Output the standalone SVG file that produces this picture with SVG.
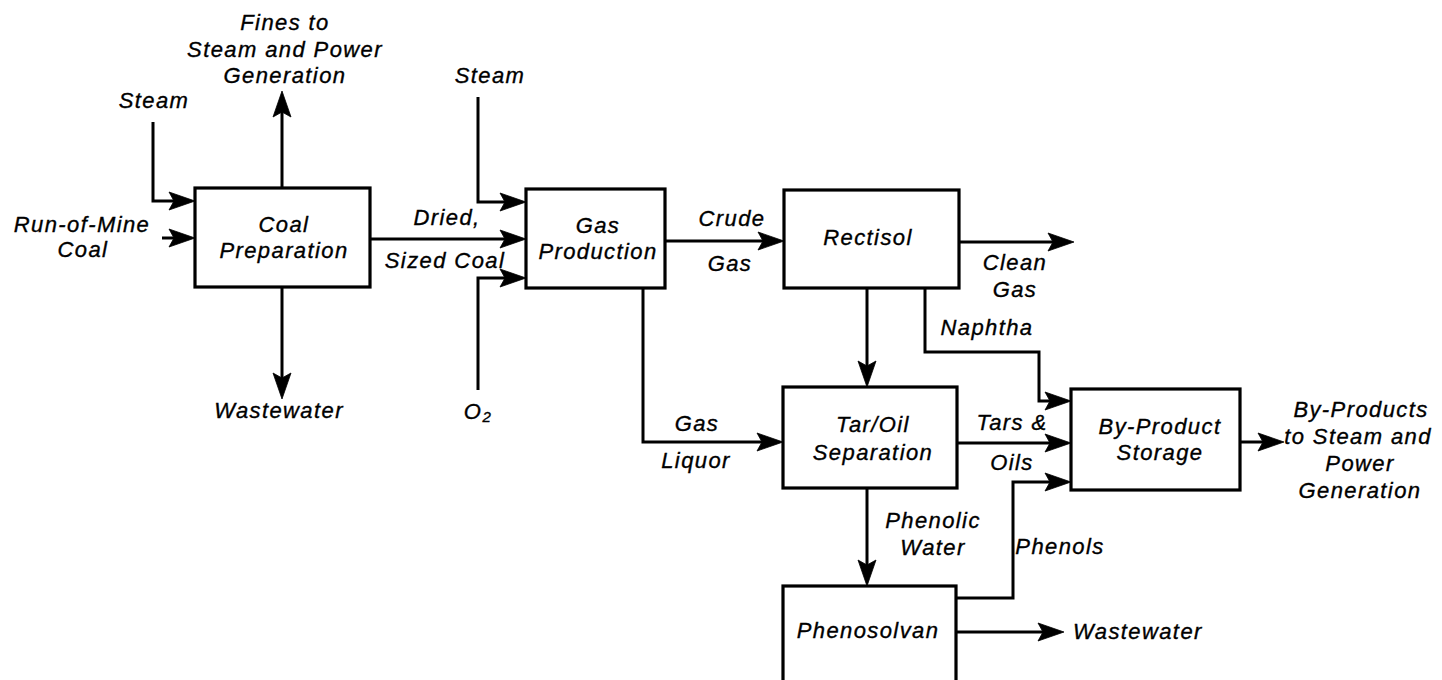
<svg xmlns="http://www.w3.org/2000/svg" width="1442" height="680" viewBox="0 0 1442 680">
<style>
.box{fill:#fff;stroke:#000;stroke-width:3.2}
.ln{fill:none;stroke:#000;stroke-width:3;stroke-linejoin:miter}
text{font-family:"Liberation Sans",Arial,sans-serif;font-style:italic;font-size:22px;letter-spacing:1.4px;fill:#000;stroke:#000;stroke-width:0.35;text-anchor:middle}
.st{text-anchor:start}
</style>
<defs>
<path id="ah" d="M-26,-9 L0,0 L-26,9 L-21,0 z" fill="#000" stroke="#000" stroke-width="0.8" stroke-linejoin="round"/>
</defs>
<rect width="1442" height="680" fill="#fff"/>
<g id="connectors">
<path class="ln" d="M153,122 V201 H188"/>
<use href="#ah" transform="translate(195,201)"/>
<path class="ln" d="M162,238 H188"/>
<use href="#ah" transform="translate(195,238)"/>
<path class="ln" d="M282,188 V98"/>
<use href="#ah" transform="translate(282,91) rotate(-90)"/>
<path class="ln" d="M282,287 V392"/>
<use href="#ah" transform="translate(282,399) rotate(90)"/>
<path class="ln" d="M370,239 H519"/>
<use href="#ah" transform="translate(526,239)"/>
<path class="ln" d="M478,97 V202 H519"/>
<use href="#ah" transform="translate(526,202)"/>
<path class="ln" d="M478,390 V278 H519"/>
<use href="#ah" transform="translate(526,278)"/>
<path class="ln" d="M665,241 H777"/>
<use href="#ah" transform="translate(784,241)"/>
<path class="ln" d="M959,242 H1067"/>
<use href="#ah" transform="translate(1074,242)"/>
<path class="ln" d="M867,288 V380"/>
<use href="#ah" transform="translate(867,387) rotate(90)"/>
<path class="ln" d="M925,288 V352 H1039 V401 H1064"/>
<use href="#ah" transform="translate(1071,401)"/>
<path class="ln" d="M643,288 V442 H776"/>
<use href="#ah" transform="translate(783,442)"/>
<path class="ln" d="M957,443 H1064"/>
<use href="#ah" transform="translate(1071,443)"/>
<path class="ln" d="M1240,442 H1277"/>
<use href="#ah" transform="translate(1284,442)"/>
<path class="ln" d="M867,488 V579"/>
<use href="#ah" transform="translate(867,586) rotate(90)"/>
<path class="ln" d="M956,598 H1013 V482 H1064"/>
<use href="#ah" transform="translate(1071,482)"/>
<path class="ln" d="M956,632 H1057"/>
<use href="#ah" transform="translate(1064,632)"/>
</g>
<g id="coal-preparation">
<rect class="box" x="195" y="188" width="175" height="99"/>
<text x="284" y="232">Coal</text>
<text x="284" y="258">Preparation</text>
</g>
<g id="gas-production">
<rect class="box" x="526" y="189" width="139" height="99"/>
<text x="598" y="233">Gas</text>
<text x="598" y="259">Production</text>
</g>
<g id="rectisol">
<rect class="box" x="784" y="190" width="175" height="98"/>
<text x="868" y="245">Rectisol</text>
</g>
<g id="tar-oil-separation">
<rect class="box" x="783" y="387" width="174" height="101"/>
<text x="873" y="432">Tar/Oil</text>
<text x="873" y="460">Separation</text>
</g>
<g id="by-product-storage">
<rect class="box" x="1071" y="389" width="169" height="101"/>
<text x="1160" y="434">By-Product</text>
<text x="1160" y="460">Storage</text>
</g>
<g id="phenosolvan">
<rect class="box" x="783" y="586" width="173" height="120"/>
<text x="868" y="638">Phenosolvan</text>
</g>
<g id="labels">
<text x="285" y="30">Fines to</text>
<text x="285" y="57">Steam and Power</text>
<text x="285" y="83">Generation</text>
<text x="154" y="108">Steam</text>
<text x="490" y="83">Steam</text>
<text x="82" y="232">Run-of-Mine</text>
<text x="83" y="257">Coal</text>
<text x="447" y="225">Dried,</text>
<text x="445" y="268">Sized Coal</text>
<text x="279" y="418">Wastewater</text>
<text x="478" y="419">O<tspan font-size="15" dy="3">2</tspan></text>
<text x="732" y="226">Crude</text>
<text x="730" y="271">Gas</text>
<text x="1015" y="270">Clean</text>
<text x="1015" y="297">Gas</text>
<text x="987" y="335">Naphtha</text>
<text x="697" y="431">Gas</text>
<text x="696" y="468">Liquor</text>
<text x="1012" y="430">Tars &amp;</text>
<text x="1012" y="470">Oils</text>
<text x="1361" y="417">By-Products</text>
<text x="1358" y="444">to Steam and</text>
<text x="1360" y="471">Power</text>
<text x="1360" y="498">Generation</text>
<text x="933" y="528">Phenolic</text>
<text x="933" y="555">Water</text>
<text x="1060" y="554">Phenols</text>
<text class="st" x="1073" y="639">Wastewater</text>
</g>
</svg>
